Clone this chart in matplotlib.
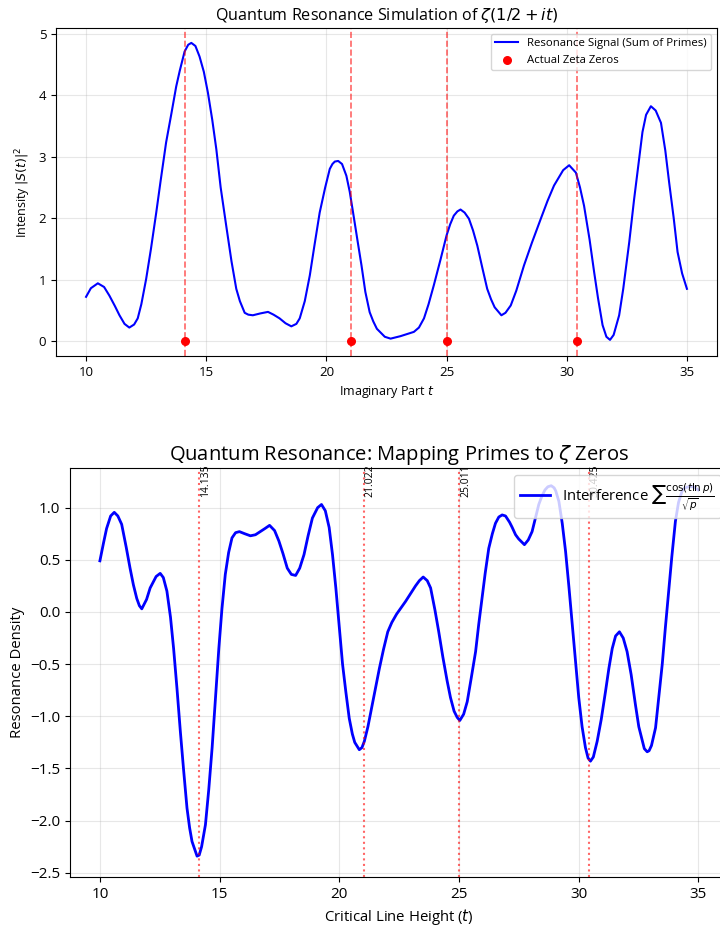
import numpy as np
import matplotlib
matplotlib.use("Agg")
import matplotlib.pyplot as plt

plt.rcParams['font.family'] = ['Open Sans', 'DejaVu Sans']

# Werte
zeta_zeros = [14.135, 21.022, 25.011, 30.425]

t_top = [10.0, 10.2, 10.49, 10.75, 10.97, 11.2, 11.39, 11.6, 11.8, 12.0, 12.15, 12.3, 12.5,
         12.7, 12.92, 13.1, 13.33, 13.55, 13.75, 13.9, 14.1, 14.25, 14.38, 14.55, 14.72,
         14.9, 15.07, 15.25, 15.42, 15.6, 15.83, 16.05, 16.25, 16.4, 16.6, 16.75, 16.94,
         17.25, 17.57, 17.8, 18.05, 18.3, 18.54, 18.75, 18.89, 19.1, 19.31, 19.5, 19.72,
         19.95, 20.14, 20.25, 20.35, 20.49, 20.65, 20.83, 20.97, 21.11, 21.3, 21.46,
         21.62, 21.8, 21.95, 22.1, 22.43, 22.67, 23.08, 23.64, 23.85, 24.06, 24.25,
         24.47, 24.75, 25.0, 25.15, 25.3, 25.45, 25.58, 25.75, 25.93, 26.1, 26.28, 26.5,
         26.69, 26.85, 27.0, 27.28, 27.45, 27.67, 27.9, 28.22, 28.55, 28.92, 29.2, 29.47,
         29.85, 30.1, 30.38, 30.55, 30.72, 30.95, 31.14, 31.3, 31.49, 31.65, 31.8, 31.95,
         32.18, 32.35, 32.6, 32.8, 33.01, 33.15, 33.3, 33.5, 33.7, 33.92, 34.1, 34.26,
         34.45, 34.61, 34.8, 35.0]
intensity = [0.72, 0.86, 0.94, 0.88, 0.74, 0.57, 0.42, 0.28, 0.22, 0.27, 0.37, 0.6, 1.01,
             1.5, 2.09, 2.6, 3.23, 3.7, 4.14, 4.4, 4.71, 4.82, 4.85, 4.8, 4.63,
             4.38, 4.04, 3.6, 3.12, 2.5, 1.88, 1.3, 0.85, 0.65, 0.46, 0.43, 0.42,
             0.45, 0.475, 0.43, 0.37, 0.29, 0.24, 0.28, 0.37, 0.65, 1.07, 1.55, 2.09,
             2.5, 2.8, 2.88, 2.92, 2.93, 2.88, 2.69, 2.43, 2.09, 1.62, 1.23,
             0.8, 0.47, 0.32, 0.2, 0.07, 0.04, 0.08, 0.15, 0.22, 0.37, 0.6,
             0.91, 1.33, 1.72, 1.9, 2.04, 2.11, 2.14, 2.09, 1.99, 1.8, 1.55, 1.17,
             0.85, 0.68, 0.55, 0.42, 0.46, 0.58, 0.82, 1.23, 1.6, 1.99, 2.28, 2.53,
             2.78, 2.86, 2.74, 2.5, 2.2, 1.65, 1.12, 0.7, 0.26, 0.07, 0.02, 0.1,
             0.42, 0.85, 1.61, 2.3, 2.96, 3.4, 3.68, 3.82, 3.75, 3.55, 3.1, 2.58,
             2.0, 1.45, 1.1, 0.85]

t_bot = [10.0, 10.15, 10.28, 10.45, 10.6, 10.75, 10.91, 11.1, 11.26, 11.4, 11.54, 11.65,
         11.75, 11.95, 12.1, 12.35, 12.52, 12.65, 12.8, 12.95, 13.08, 13.22, 13.36, 13.5,
         13.64, 13.75, 13.85, 14.06, 14.15, 14.25, 14.41, 14.55, 14.69, 14.83, 14.97,
         15.1, 15.24, 15.38, 15.52, 15.67, 15.83, 16.05, 16.29, 16.5, 16.7, 16.9, 17.09,
         17.3, 17.48, 17.65, 17.83, 18.0, 18.18, 18.35, 18.53, 18.7, 18.88, 19.1, 19.26,
         19.42, 19.58, 19.72, 19.86, 20.0, 20.14, 20.28, 20.42, 20.55, 20.65, 20.84,
         20.95, 21.05, 21.2, 21.33, 21.5, 21.68, 21.85, 22.03, 22.2, 22.4, 22.77, 23.19,
         23.35, 23.51, 23.68, 23.82, 24.0, 24.16, 24.33, 24.51, 24.65, 24.8, 24.93,
         25.04, 25.2, 25.35, 25.52, 25.7, 25.83, 25.97, 26.1, 26.25, 26.4, 26.53, 26.67,
         26.81, 26.95, 27.12, 27.23, 27.37, 27.5, 27.74, 27.9, 28.06, 28.2, 28.34, 28.47,
         28.6, 28.72, 28.86, 28.98, 29.05, 29.18, 29.32, 29.46, 29.6, 29.74, 29.88, 30.01,
         30.15, 30.29, 30.4, 30.5, 30.62, 30.78, 30.95, 31.13, 31.27, 31.41, 31.55, 31.71,
         31.87, 32.03, 32.2, 32.38, 32.52, 32.65, 32.75, 32.87, 32.95, 33.05, 33.22,
         33.35, 33.5, 33.63, 33.77, 33.9, 34.05, 34.18, 34.33, 34.45, 34.61, 34.8, 35.0]
density = [0.49, 0.66, 0.8, 0.92, 0.955, 0.92, 0.84, 0.62, 0.42, 0.26, 0.13, 0.06,
           0.03, 0.12, 0.23, 0.34, 0.37, 0.33, 0.2, -0.05, -0.35, -0.73, -1.14, -1.52,
           -1.88, -2.07, -2.2, -2.34, -2.33, -2.25, -2.04, -1.7, -1.3, -0.82, -0.35,
           0.03, 0.36, 0.57, 0.71, 0.76, 0.77, 0.75, 0.73, 0.74, 0.77, 0.8, 0.83,
           0.78, 0.68, 0.56, 0.42, 0.36, 0.35, 0.42, 0.55, 0.73, 0.9, 1.0, 1.03,
           0.97, 0.81, 0.55, 0.23, -0.13, -0.5, -0.77, -1.02, -1.17, -1.25, -1.32,
           -1.3, -1.24, -1.1, -0.95, -0.75, -0.54, -0.36, -0.19, -0.1, -0.02, 0.1, 0.25,
           0.3, 0.335, 0.3, 0.23, 0.02, -0.19, -0.43, -0.66, -0.82, -0.95, -1.01,
           -1.04, -0.98, -0.86, -0.63, -0.38, -0.12, 0.13, 0.37, 0.61, 0.75, 0.85, 0.91,
           0.93, 0.92, 0.86, 0.81, 0.74, 0.7, 0.645, 0.69, 0.77, 0.9, 1.03, 1.11,
           1.17, 1.2, 1.21, 1.19, 1.16, 1.06, 0.85, 0.58, 0.24, -0.12, -0.48, -0.82,
           -1.1, -1.3, -1.4, -1.43, -1.39, -1.24, -1.03, -0.76, -0.54, -0.35, -0.23, -0.19,
           -0.25, -0.38, -0.6, -0.89, -1.1, -1.22, -1.31, -1.34, -1.33, -1.28, -1.11,
           -0.83, -0.5, -0.15, 0.2, 0.53, 0.87, 1.05, 1.16, 1.19, 1.2, 1.2, 1.17]

fig = plt.figure(figsize=(7.2, 9.3), dpi=100)

# Oberes Diagramm
ax1 = fig.add_axes([0.0778, 0.6172, 0.918, 0.3527])
ax1.plot(t_top, intensity, color='blue', lw=1.5, label='Resonance Signal (Sum of Primes)')
ax1.scatter(zeta_zeros, [0] * len(zeta_zeros), color='red', s=30, zorder=5, label='Actual Zeta Zeros')
for z in zeta_zeros:
    ax1.axvline(z, color='red', linestyle='--', alpha=0.6, lw=1.2)
ax1.set_title(r'Quantum Resonance Simulation of $\zeta(1/2 + it)$', fontsize=11.6)
ax1.set_xlabel(r'Imaginary Part $t$', fontsize=9)
ax1.set_ylabel(r'Intensity $|S(t)|^2$', fontsize=9)
ax1.tick_params(labelsize=9.5)
ax1.grid(True, alpha=0.3)
ax1.legend(loc='upper right', fontsize=8.2)

# Unteres Diagramm
ax2 = fig.add_axes([0.0972, 0.057, 0.914, 0.4398])
ax2.plot(t_bot, density, color='blue', lw=2,
         label=r'Interference $\sum\frac{\cos(t\ln p)}{\sqrt{p}}$')
for z in zeta_zeros:
    ax2.axvline(z, color='red', linestyle=':', alpha=0.6, lw=1.5)
    ax2.text(z + 0.05, 1.1, f'{z:.3f}', rotation=90, fontsize=7.5, ha='left', va='bottom')
ax2.set_ylim(-2.54, 1.38)
ax2.set_title(r'Quantum Resonance: Mapping Primes to $\zeta$ Zeros', fontsize=14.5)
ax2.set_xlabel(r'Critical Line Height ($t$)', fontsize=10.7)
ax2.set_ylabel('Resonance Density', fontsize=10.7)
ax2.tick_params(labelsize=11)
ax2.grid(True, alpha=0.3)
ax2.legend(loc='upper right', fontsize=10.7)

fig.savefig('out.png', dpi=100)
